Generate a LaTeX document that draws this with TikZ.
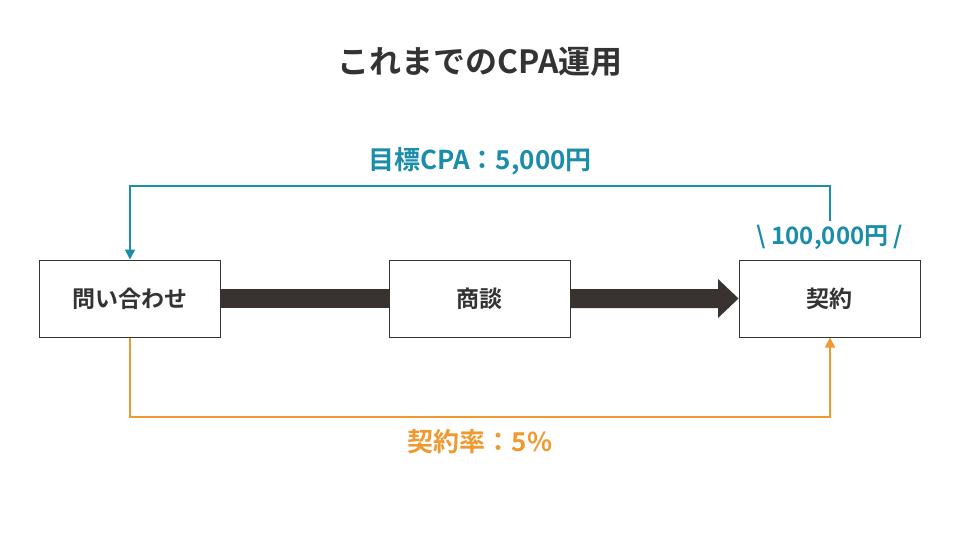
\documentclass[tikz,border=0pt]{standalone}
\usepackage{fontspec}
\setmainfont{Noto Sans CJK JP}[BoldFont={* Bold}]
\usetikzlibrary{arrows.meta,shapes.arrows}
\definecolor{teal1}{HTML}{1A8DAA}
\definecolor{orange1}{HTML}{EE9A30}
\definecolor{dark1}{HTML}{3A3230}
\definecolor{text1}{HTML}{333333}
\begin{document}
\begin{tikzpicture}[x=1pt,y=-1pt,
  box/.style={draw=text1,line width=1pt,minimum width=181pt,minimum height=77pt,inner sep=0pt,font=\bfseries\fontsize{23}{26}\selectfont,text=text1},
  tealline/.style={draw=teal1,line width=1.5pt},
  orangeline/.style={draw=orange1,line width=1.5pt},
  bigarrow/.style={fill=dark1}]
\useasboundingbox (0,0) rectangle (960,540);
\node[font=\bfseries\fontsize{32}{36}\selectfont,text=text1] (title) at (480,62) {これまでのCPA運用};
\node[box] (a) at (129.5,298.5) {問い合わせ};
\node[box] (b) at (479.5,298.5) {商談};
\node[box] (c) at (829.5,298.5) {契約};
\fill[bigarrow] (a.east |- 0,289) rectangle (b.west |- 0,308);
\fill[bigarrow] (b.east |- 0,289) -- (718,289) -- (718,279) -- (c.west) -- (718,318) -- (718,308) -- (b.east |- 0,308) -- cycle;
\node[font=\bfseries\fontsize{26}{30}\selectfont,text=teal1] (cpa) at (480,161) {目標CPA：5,000円};
\node[font=\bfseries\fontsize{24}{28}\selectfont,text=teal1] (price) at (830,237) {\textbackslash\ 100,000円 /};
\coordinate (t1) at (830,186);
\coordinate (t2) at (130,186);
\draw[tealline,-{Triangle[length=10pt,width=10pt]}] (price.north -| t1) -- (t1) -- (t2) -- (a.north -| t2);
\coordinate (o1) at (130,417);
\coordinate (o2) at (830,417);
\draw[orangeline,-{Triangle[length=10pt,width=10pt]}] (a.south -| o1) -- (o1) -- (o2) -- (c.south -| o2);
\node[font=\bfseries\fontsize{26}{30}\selectfont,text=orange1] (rate) at (480,442) {契約率：5\%};
\end{tikzpicture}
\end{document}
